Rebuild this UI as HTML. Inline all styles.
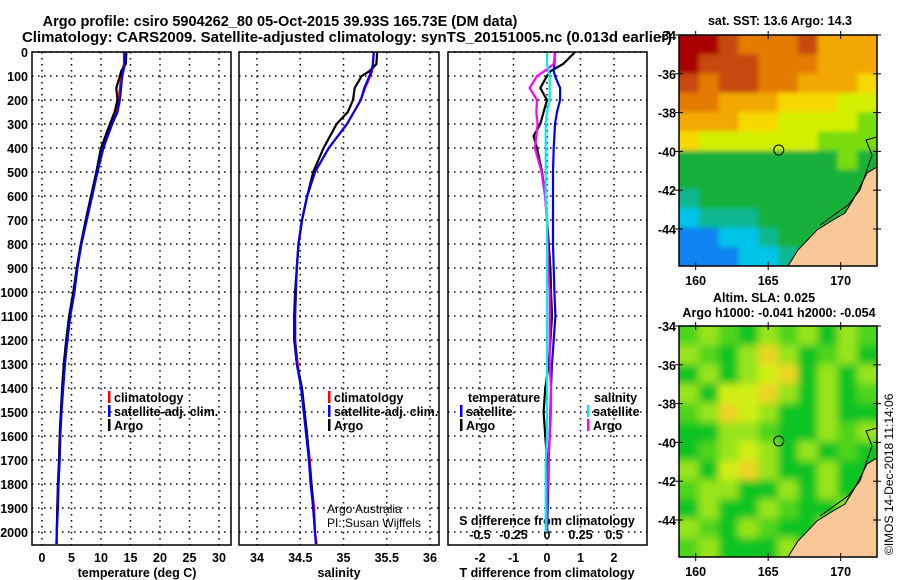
<!DOCTYPE html>
<html><head><meta charset="utf-8"><style>
body{margin:0;background:#fff}
svg{display:block;font-family:"Liberation Sans",Arial,sans-serif}
.b{font-weight:bold;font-size:12.5px}
.n{font-size:12px}
</style></head><body>
<svg id="c" width="900" height="580" viewBox="0 0 900 580" xmlns="http://www.w3.org/2000/svg">
<defs>
<filter id="blur" x="0" y="0" width="1" height="1"><feGaussianBlur stdDeviation="4"/></filter>
<filter id="blur2" x="0" y="0" width="1" height="1"><feGaussianBlur stdDeviation="2.5"/></filter>
<clipPath id="clipTop"><rect x="679" y="35" width="198" height="231"/></clipPath>
<clipPath id="clipBot"><rect x="679" y="326" width="198" height="231"/></clipPath>
</defs>
<text x="280" y="26" text-anchor="middle" font-size="14.5" font-weight="bold">Argo profile: csiro 5904262_80 05-Oct-2015 39.93S 165.73E (DM data)</text>
<text x="22" y="42" font-size="14.5" font-weight="bold" textLength="650" lengthAdjust="spacingAndGlyphs">Climatology: CARS2009. Satellite-adjusted climatology: synTS_20151005.nc (0.013d earlier)</text>
<g id="plots"></g>
<g id="maps"></g>
<text transform="translate(893,555) rotate(-90)" font-size="12">©IMOS 14-Dec-2018 11:14:06</text>
</svg>
<script>
const tDepth=[0,50,80,100,150,200,250,300,400,500,600,700,800,900,1000,1100,1200,1300,1400,1500,1600,1700,1800,1900,2000];
const tArgo=[14.3,14.2,13.4,13.2,12.6,12.8,12.3,11.5,10.0,9.2,8.3,7.4,6.6,5.9,5.3,4.6,4.1,3.7,3.4,3.2,3.0,2.9,2.7,2.6,2.5];
const cDepth=[0,50,80,100,150,200,250,300,400,500,600,700,800,900,1000,1100,1200,1300,1400,1500,1600,1700,1800,1900,2000,2050];
const tClim=[13.9,13.9,13.6,13.4,13.2,13.0,12.6,11.7,10.2,9.3,8.4,7.5,6.6,5.9,5.4,4.7,4.2,3.8,3.5,3.2,3.0,2.9,2.8,2.6,2.5,2.4];
const tSat=[14.0,14.0,13.8,13.6,13.4,13.2,12.8,11.9,10.4,9.4,8.5,7.6,6.7,6.0,5.5,4.8,4.3,3.9,3.6,3.3,3.1,3.0,2.8,2.7,2.5,2.5];
const sArgo=[35.39,35.38,35.30,35.21,35.13,35.11,35.05,34.92,34.77,34.65,34.58,34.52,34.48,34.46,34.44,34.43,34.43,34.46,34.52,34.55,34.58,34.60,34.63,34.65,34.67];
const sClim=[35.35,35.34,35.33,35.31,35.25,35.20,35.12,35.04,34.83,34.67,34.58,34.52,34.48,34.46,34.45,34.44,34.44,34.47,34.51,34.55,34.58,34.61,34.63,34.66,34.67,34.69];
const sSat=[35.35,35.34,35.32,35.30,35.24,35.20,35.12,35.04,34.83,34.67,34.58,34.52,34.48,34.46,34.45,34.44,34.44,34.46,34.51,34.54,34.57,34.60,34.62,34.65,34.67,34.68];
const dDepth=[0,50,80,100,150,200,250,300,350,400,500,600,700,800,900,1000,1100,1200,1300,1400,1500,1600,1700,1800,1900,2000];
const dTArgo=[0.84,0.48,0.1,0.0,-0.2,0.0,-0.1,-0.2,-0.4,-0.3,-0.15,-0.05,0,0.05,0.1,0.12,0.15,0.1,0.05,-0.05,-0.1,-0.05,0,0,0,0];
const dTSat=[0.24,0.22,0.2,0.24,0.39,0.39,0.3,0.24,0.22,0.2,0.18,0.18,0.18,0.18,0.2,0.22,0.25,0.2,0.15,0.12,0.1,0.08,0.05,0.04,0.02,0];
const dSArgo=[0.06,0.05,-0.02,-0.075,-0.13,-0.075,-0.08,-0.07,-0.08,-0.09,-0.04,-0.015,0,0.005,0.01,0.02,0.02,0.02,0.02,0.03,0.03,0.02,0.01,0.005,0,0];
const dSSat=[0,0,0.01,0.02,0.02,0.02,0,-0.01,-0.01,-0.01,-0.01,-0.01,0,0,0,0,0,0,0,0,0,0,-0.01,-0.01,-0.01,-0.01];
const depthTicks=[0,100,200,300,400,500,600,700,800,900,1000,1100,1200,1300,1400,1500,1600,1700,1800,1900,2000];
const tTicks=[0,5,10,15,20,25,30];
const sTicks=[34,34.5,35,35.5,36];
const dtTicks=[-2,-1,0,1,2];
const dsTicks=[-0.5,-0.25,0,0.25,0.5];
const dsTickLabels=['-0.5','-0.25','0','0.25','0.5'];

const NS='http://www.w3.org/2000/svg';
const P=document.getElementById('plots');
function mk(tag,at,parent){const e=document.createElementNS(NS,tag);for(const k in at)e.setAttribute(k,at[k]);(parent||P).appendChild(e);return e;}
const yD=d=>52+d*0.24;
const xT=v=>42+v*5.9, xS=v=>257+(v-34)*86.5, xDT=v=>547+v*33.5, xDS=v=>547+v*134;
const panels=[[32,231],[239,439],[448,647]];
const TOP=52,BOT=545;

panels.forEach((p,i)=>{
  const g=mk('g',{});
  
  
  depthTicks.forEach(d=>{mk('line',{x1:p[0],x2:p[1],y1:yD(d),y2:yD(d),stroke:'#000','stroke-width':1.5,'stroke-dasharray':'1.5 4.5'},g);});
  const xs=i==0?tTicks.map(xT):i==1?sTicks.map(xS):dtTicks.map(xDT);
  xs.forEach(x=>mk('line',{x1:x,x2:x,y1:TOP,y2:BOT,stroke:'#000','stroke-width':1.5,'stroke-dasharray':'1.5 4.5'},g));
});
function lbl(x,y,t,anchor,name,cls){const e=mk('text',{x:x,y:y,'text-anchor':anchor||'middle','class':cls||'b'});e.textContent=t;

return e;}
depthTicks.forEach(d=>lbl(28,yD(d)+5,String(d),'end','depth-tick-label'));
tTicks.forEach(v=>lbl(xT(v),562,String(v),'middle','temperature-tick-label'));
sTicks.forEach(v=>lbl(xS(v),562,String(v),'middle','salinity-tick-label'));
dtTicks.forEach(v=>lbl(xDT(v),562,String(v),'middle','t-diff-tick-label'));
dsTicks.forEach((v,i)=>lbl(xDS(v),539,dsTickLabels[i],'middle','s-diff-tick-label'));
lbl(137,577,'temperature (deg C)','middle','temperature-axis-title');
lbl(339,577,'salinity','middle','salinity-axis-title');
lbl(547,577,'T difference from climatology','middle','t-diff-axis-title');
lbl(547,525,'S difference from climatology','middle','s-diff-axis-title');

function line(depths,vals,fx,color,name,w){
  const pts=depths.map((d,i)=>fx(vals[i]).toFixed(1)+','+yD(d).toFixed(1)).join(' ');
  const e=mk('polyline',{points:pts,fill:'none',stroke:color,'stroke-width':w||2.2});
  
  
}
line(cDepth,tClim,xT,'#f00','temp-climatology-line');
line(tDepth,tArgo,xT,'#000','temp-argo-line');
line(cDepth,tSat,xT,'#00f','temp-satellite-line');
line(cDepth,sClim,xS,'#f00','sal-climatology-line');
line(tDepth,sArgo,xS,'#000','sal-argo-line');
line(cDepth,sSat,xS,'#00f','sal-satellite-line');
line(dDepth,dTArgo,xDT,'#000','tdiff-argo-line');
line(dDepth,dTSat,xDT,'#00f','tdiff-satellite-line');
line(dDepth,dSArgo,xDS,'#f0f','sdiff-argo-line');
line(dDepth,dSSat,xDS,'#0ee','sdiff-satellite-line');

panels.forEach((p,i)=>{const r=mk('rect',{x:p[0],y:TOP,width:p[1]-p[0],height:BOT-TOP,fill:'none',stroke:'#000','stroke-width':1.5});

});

function legend(x,y,items,name){
  const g=mk('g',{});
  items.forEach((it,i)=>{
    if(it[1]) mk('rect',{x:x,y:y+i*14-11,width:2.5,height:12,fill:it[1]},g);
    const t=mk('text',{x:x+6,y:y+i*14,'class':'b'},g);t.textContent=it[0];
  });
}
legend(108,402,[['climatology','#f00'],['satellite-adj. clim.','#00f'],['Argo','#000']],'temperature-legend');
legend(328,402,[['climatology','#f00'],['satellite-adj. clim.','#00f'],['Argo','#000']],'salinity-legend');
legend(462,402,[['temperature',null]],'diff-legend-t-header');
legend(460,416,[['satellite','#00f'],['Argo','#000']],'diff-legend-temperature');
legend(588,402,[['salinity',null]],'diff-legend-s-header');
legend(587,416,[['satellite','#0ee'],['Argo','#f0f']],'diff-legend-salinity');
lbl(327,513,'Argo Australia','start','credit-line-1','n');
lbl(327,527,'PI: Susan Wijffels','start','credit-line-2','n');

// maps
const M=document.getElementById('maps');
const topGrid=["RRrooorOOO","RrrroooOOO","rorrooOOOy","ooOOOyyyYY","OOOyyYYYYg","yYYYYYYggg","GGGGGGGGgG","GGGGGGGGGG","tGGGGGGGGG","ctttGGGGGG","bbcctGGGGb","bbbcctGGGn"];
const botGrid=["glgGlglGlg","lgGlYlGglG","GlGlyYGlGl","lGyyYlGlGg","glYylGGlGG","GGllgGGlgl","GglylGlGgG","lGyYlGGlGG","gllGGlGlGG","GlGGlgGGlG","lgGlgGGlGg","glGGGlGGGg"];
const palTop={R:'#a80000',r:'#c84a10',o:'#e47c00',O:'#f2a800',y:'#f6d800',Y:'#d4f000',g:'#78dc10',G:'#14b03a',t:'#10b890',c:'#00c4e8',b:'#0a84f0',n:'#0828a0'};
const palBot={G:'#10c424',g:'#50d41c',l:'#98e41c',y:'#d0ee18',Y:'#ecd420'};
const lonTicks=[160,165,170], latTicks=[-34,-36,-38,-40,-42,-44];
function map(y0,grid,pal,name,cx,cy,clip,filt){
  const x0=679,w=198,h=231;
  const g=mk('g',{},M);
  const cg=mk('g',{'clip-path':'url(#'+clip+')'},g);
  const fg=mk('g',{filter:'url(#'+filt+')'},cg);
  const cw=w/10,ch=h/12;
  mk('rect',{x:x0-20,y:y0-20,width:w+40,height:h+40,fill:pal[grid[6][5]]},fg);
  grid.forEach((row,r)=>[...row].forEach((c,k)=>{
    const ex=k==0?-20:0, ey=r==0?-20:0, ew=k==9?20:0, eh=r==11?20:0;
    mk('rect',{x:x0+k*cw+ex,y:y0+r*ch+ey,width:cw+0.6-ex+ew,height:ch+0.6-ey+eh,fill:pal[c]},fg);}));
  const X=v=>x0+(v-158.85)*14.5, Y=v=>y0+(-34-v)*19.4;
  const land=[[788,266],[798,250],[817,230],[833,220],[845,213],[853,200],[860,187],[867,173],[877,167],[877,266]].map(p=>p[0]+','+(p[1]-35+y0)).join(' ');
  if(name=='sst-map'){mk('polygon',{points:[[854,266],[860,237],[877,227],[877,266]].map(p=>p[0]+','+(p[1]-35+y0)).join(' '),fill:'#0a60e0'},cg);
  mk('polygon',{points:[[862,266],[877,245],[877,266]].map(p=>p[0]+','+(p[1]-35+y0)).join(' '),fill:'#001a80'},cg);}
  else mk('polygon',{points:[[854,266],[860,237],[877,227],[877,266]].map(p=>p[0]+','+(p[1]-35+y0)).join(' '),fill:'#10c424'},cg);
  mk('polygon',{points:land,fill:'#f8c898',stroke:'#000','stroke-width':1},cg);
  mk('polyline',{points:[[877,137],[866,140],[872,155],[860,190],[848,205],[820,225]].map(p=>p[0]+','+(p[1]-35+y0)).join(' '),fill:'none',stroke:'#000','stroke-width':1},cg);
  mk('rect',{x:x0,y:y0,width:w,height:h,fill:'none',stroke:'#000','stroke-width':1.5},g);
  const cc=mk('circle',{cx:X(cx),cy:Y(cy),r:5,fill:'none',stroke:'#000','stroke-width':1},g);
  
  
  lonTicks.forEach(v=>{mk('line',{x1:X(v),x2:X(v),y1:y0-4,y2:y0+4,stroke:'#000'},g);mk('line',{x1:X(v),x2:X(v),y1:y0+h-4,y2:y0+h+4,stroke:'#000'},g);
    const t=mk('text',{x:X(v),y:y0+h+19,'text-anchor':'middle','class':'b'},g);t.textContent=v;});
  latTicks.forEach(v=>{mk('line',{x1:x0-4,x2:x0+4,y1:Y(v),y2:Y(v),stroke:'#000'},g);mk('line',{x1:x0+w-4,x2:x0+w+4,y1:Y(v),y2:Y(v),stroke:'#000'},g);
    const t=mk('text',{x:x0-3,y:Y(v)+5,'text-anchor':'end','class':'b'},g);t.textContent=v;});
}
map(35,topGrid,palTop,'sst-map',165.73,-39.93,'clipTop','blur2');
map(326,botGrid,palBot,'sla-map',165.73,-39.93,'clipBot','blur');
function mt(x,y,t,n,a){const e=mk('text',{x:x,y:y,'text-anchor':a||'middle','class':'b'},M);e.textContent=t;}
mt(780,25,'sat. SST: 13.6 Argo: 14.3','sst-map-title');
mt(764,302,'Altim. SLA: 0.025','sla-map-title');
mt(779,317,'Argo h1000: -0.041 h2000: -0.054','sla-map-subtitle');
</script>
</body></html>
